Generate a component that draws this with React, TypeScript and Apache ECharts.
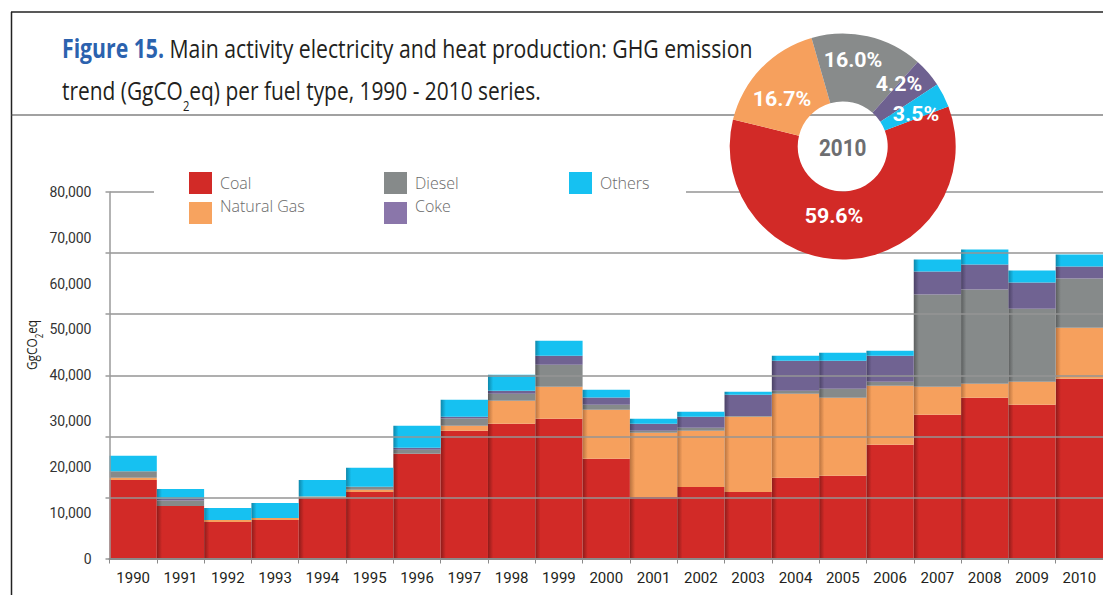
import React, { useEffect, useRef } from 'react';
import * as echarts from 'echarts';

// ---------- data ----------
const years = ['1990', '1991', '1992', '1993', '1994', '1995', '1996', '1997', '1998', '1999', '2000',
  '2001', '2002', '2003', '2004', '2005', '2006', '2007', '2008', '2009', '2010'];
const seriesNames = ['Coal', 'Natural Gas', 'Diesel', 'Coke', 'Others'];
const coal = [17160, 11480, 7980, 8420, 13290, 14540, 22840, 27870, 29400, 30490, 21750, 13440, 15630, 14540, 17600, 18040, 24810, 31370, 35090, 33560, 39240];
const gas = [440, 0, 440, 440, 220, 440, 0, 1100, 5030, 7000, 10710, 13990, 12240, 16390, 18360, 17050, 12900, 6120, 3060, 5030, 11150];
const diesel = [1460, 1160, 0, 0, 0, 660, 880, 1600, 1530, 4810, 1090, 440, 660, 200, 660, 1970, 870, 20110, 20550, 15950, 10710];
const coke = [0, 440, 0, 0, 0, 0, 440, 370, 660, 1970, 1600, 1530, 2400, 4590, 6560, 6120, 5680, 5030, 5470, 5680, 2620];
const others = [3350, 2110, 2620, 3280, 3650, 4150, 4810, 3720, 3500, 3280, 1680, 1090, 1090, 660, 1090, 1750, 1090, 2620, 3280, 2620, 2620];
const pieShares = [59.6, 16.7, 16.0, 4.2, 3.5];
const pieYear = '2010';
const yMax = 80000;
const yLabelStep = 10000;
const gridSteps = 6;

// ---------- styles / layout ----------
const baseColors = ['#D22A27', '#F6A05D', '#868A8A', '#706392', '#16C1F1'];
const edgeColors = ['#8E1C1A', '#B9733F', '#5B5E5E', '#4B4266', '#0E87AA'];
const legendColors = ['#D22A27', '#F7A35F', '#868A8A', '#8A76AA', '#16C1F1'];
const pieColors = ['#D22A27', '#F6A05D', '#888B8B', '#6E6190', '#16C1F1'];
const legendPos = [
  { left: 189, top: 172, row: 0 },
  { left: 189, top: 188, row: 1 },
  { left: 384, top: 172, row: 0 },
  { left: 384, top: 188, row: 1 },
  { left: 569, top: 172, row: 0 },
];
const pieLabelPos = [[834, 216], [782, 99], [853, 60], [899, 84], [916, 114]];
const TF = '"Open Sans", "Noto Sans", sans-serif';
const NF = 'Roboto, "Noto Sans", sans-serif';
const LOWER_RECT_ICON = 'path://M0,14 L23,14 L23,36 L0,36 Z M0,0 L0.01,0 L0.01,0.01 L0,0.01 Z';

function tw(text: string, font: string): number {
  const ctx = document.createElement('canvas').getContext('2d');
  if (!ctx) return text.length * 10;
  ctx.font = font;
  return ctx.measureText(text).width;
}

export default function App() {
  const ref = useRef<HTMLDivElement>(null);
  useEffect(() => {
    if (!ref.current) return;
    const chart = echarts.init(ref.current, null, { renderer: 'svg' });

    const t1a = 'Figure 15.';
    const t1b = ' Main activity electricity and heat production: GHG emission';
    const w1 = tw(t1a, `bold 26px ${TF}`) + tw(t1b, `26px ${TF}`);
    const t2a = 'trend (GgCO';
    const t2b = '2';
    const t2c = 'eq) per fuel type, 1990 - 2010 series.';
    const w2 = tw(t2a, `26px ${TF}`) + tw(t2b, `14px ${TF}`) + tw(t2c, `26px ${TF}`);
    const wy = tw('GgCO', `15px ${TF}`) + tw('2', `10px ${TF}`) + tw('eq', `15px ${TF}`);
    const wp = tw('59.6%', `bold 20px ${NF}`);

    const seriesData = [coal, gas, diesel, coke, others];

    const option: any = {
      animation: false,
      textStyle: { fontFamily: NF },
      grid: { left: 109.5, top: 192, width: 994, height: 366.5, containLabel: false },
      xAxis: {
        type: 'category',
        data: years,
        z: 6,
        axisLine: { lineStyle: { color: '#8a8a8a', width: 2 } },
        axisTick: { show: true, alignWithLabel: false, length: 5, lineStyle: { color: '#8a8a8a' } },
        axisLabel: { color: '#231f20', fontSize: 15, margin: 12, fontFamily: NF },
      },
      yAxis: [
        {
          type: 'value', position: 'left', min: 0, max: yMax, interval: yLabelStep,
          axisLine: { show: false }, axisTick: { show: false }, splitLine: { show: false },
          axisLabel: {
            color: '#333', fontSize: 14, margin: 18, fontFamily: NF,
            formatter: (v: number) => v.toLocaleString('en-US'),
          },
        },
        {
          type: 'value', position: 'left', min: 0, max: yMax, interval: yMax / gridSteps, z: 5,
          axisLine: { show: true, lineStyle: { color: '#9a9a9a', width: 1.5 } },
          axisTick: { show: true, length: 4, lineStyle: { color: '#9a9a9a', width: 1.5 } },
          axisLabel: { show: false },
          splitLine: { show: true, lineStyle: { color: '#959595', width: 1.5 } },
        },
      ],
      legend: seriesNames.map((name, i) => ({
        data: [{ name, itemStyle: { color: legendColors[i] } }],
        left: legendPos[i].left,
        top: legendPos[i].top,
        padding: 0,
        z: 12,
        icon: legendPos[i].row === 1 ? LOWER_RECT_ICON : 'rect',
        itemWidth: 23,
        itemHeight: legendPos[i].row === 1 ? 36 : 22,
        selectedMode: false,
        textStyle: {
          color: '#6a6a6a', fontSize: 16, fontFamily: TF, fontWeight: 300,
          padding: [0, 0, 0, 3],
        },
      })),
      series: [
        ...seriesNames.map((name, i) => ({
          type: 'bar',
          name,
          stack: 'total',
          barCategoryGap: '0%',
          z: 2,
          itemStyle: {
            color: {
              type: 'linear', x: 0, y: 0, x2: 1, y2: 0,
              colorStops: [
                { offset: 0, color: edgeColors[i] },
                { offset: 0.11, color: baseColors[i] },
                { offset: 1, color: baseColors[i] },
              ],
            },
          },
          data: seriesData[i].map((v, j) => (j === 0 ? { value: v, itemStyle: { color: baseColors[i] } } : v)),
        })),
        {
          type: 'pie',
          z: 10,
          silent: true,
          legendHoverLink: false,
          center: [842.7, 146.5],
          radius: [45, 113],
          startAngle: 20.7,
          clockwise: true,
          label: { show: false },
          labelLine: { show: false },
          data: seriesNames.map((name, i) => ({ name, value: pieShares[i], itemStyle: { color: pieColors[i] } })),
        },
      ],
      graphic: [
        { type: 'line', z: 1, shape: { x1: 11, y1: 12, x2: 1103, y2: 12 }, style: { stroke: '#222', lineWidth: 1.5 } },
        { type: 'line', z: 1, shape: { x1: 11.5, y1: 12, x2: 11.5, y2: 595 }, style: { stroke: '#222', lineWidth: 1.5 } },
        { type: 'line', z: 1, shape: { x1: 11, y1: 115, x2: 1103, y2: 115 }, style: { stroke: '#444', lineWidth: 1.2 } },
        { type: 'rect', z: 8, shape: { x: 154, y: 165, width: 532, height: 64 }, style: { fill: '#fff' } },
        {
          type: 'text', z: 20, x: 62, y: 48, scaleX: 691 / w1,
          style: {
            text: `{b|${t1a}}{n|${t1b}}`, verticalAlign: 'middle', align: 'left',
            rich: {
              b: { fontFamily: TF, fontWeight: 'bold', fontSize: 26, fill: '#2B62AE' },
              n: { fontFamily: TF, fontSize: 26, fill: '#231F20' },
            },
          },
        },
        {
          type: 'text', z: 20, x: 62, y: 90, scaleX: 479 / w2,
          style: {
            text: `{n|${t2a}}{s|${t2b}}{n|${t2c}}`, verticalAlign: 'middle', align: 'left',
            rich: {
              n: { fontFamily: TF, fontSize: 26, fill: '#231F20', lineHeight: 44, verticalAlign: 'middle' },
              s: { fontFamily: TF, fontSize: 14, fill: '#231F20', lineHeight: 44, verticalAlign: 'bottom' },
            },
          },
        },
        {
          type: 'text', z: 20, x: 31, y: 345, rotation: Math.PI / 2, scaleX: 50 / wy,
          style: {
            text: '{n|GgCO}{s|2}{n|eq}', verticalAlign: 'middle', align: 'center',
            rich: {
              n: { fontFamily: TF, fontSize: 15, fill: '#231F20', lineHeight: 26, verticalAlign: 'middle' },
              s: { fontFamily: TF, fontSize: 10, fill: '#231F20', lineHeight: 26, verticalAlign: 'bottom' },
            },
          },
        },
        ...pieShares.map((v, i) => ({
          type: 'text', z: 30, x: pieLabelPos[i][0], y: pieLabelPos[i][1], scaleX: 56 / wp,
          style: {
            text: v.toFixed(1) + '%', fontFamily: NF, fontWeight: 'bold', fontSize: 21, fill: '#ffffff',
            align: 'center', verticalAlign: 'middle',
          },
        })),
        {
          type: 'text', z: 30, x: 842.7, y: 148, scaleX: 0.9,
          style: { text: pieYear, fontFamily: NF, fontWeight: 'bold', fontSize: 23, fill: '#6D6E71', align: 'center', verticalAlign: 'middle' },
        },
      ],
    };
    chart.setOption(option);
    return () => chart.dispose();
  }, []);
  return <div ref={ref} style={{ position: 'absolute', left: 0, top: 0, width: 1103, height: 595 }} />;
}
